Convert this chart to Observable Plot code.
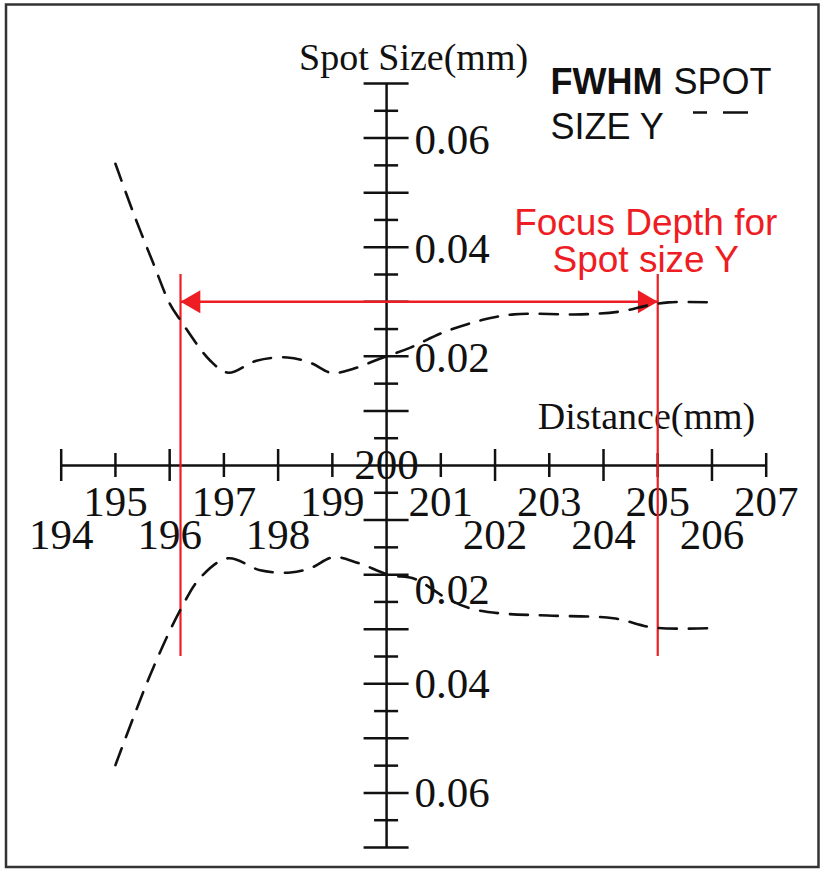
<!DOCTYPE html>
<html><head><meta charset="utf-8">
<script src="https://cdn.jsdelivr.net/npm/d3@7"></script>
<script src="https://cdn.jsdelivr.net/npm/@observablehq/plot@0.6"></script>
<style>html,body{margin:0;padding:0;background:#fff;overflow:hidden} #chart svg{display:block}</style>
</head><body><div id="chart"></div>
<script>
// ---- data ----
const xTickValues = [194,195,196,197,198,199,200,201,202,203,204,205,206,207];
const yLabelValues = [0.02, 0.04, 0.06];
// upper branch (FWHM spot size Y, drawn above the axis)
const upperX = [195.0,195.33,195.7,196.0,196.2,196.75,197.08,197.6,198.17,198.6,198.97,199.28,199.94,200.44,201.05,201.74,202.35,203.6,204.3,204.8,205.2,206.0];
const upperY = [0.0553,0.0463,0.037,0.0297,0.0266,0.0192,0.0170,0.0192,0.0198,0.0188,0.0170,0.0174,0.0198,0.0216,0.0244,0.0266,0.0277,0.0277,0.0282,0.0293,0.0299,0.0299];
// lower branch (mirrored below the axis)
const lowerX = [195.0,195.33,195.7,196.19,196.57,197.08,197.67,198.23,198.6,199.02,199.46,200.07,200.5,201.12,201.55,202.1,202.97,204.18,204.93,206.0];
const lowerY = [0.0549,0.0462,0.037,0.0266,0.0205,0.0170,0.0192,0.0196,0.0188,0.0168,0.0178,0.0201,0.0207,0.0244,0.0262,0.0271,0.0275,0.0280,0.0297,0.0298];
const focusRange = [196.2, 205];
const focusHalfHeight = 0.035;
const arrowLevel = 0.03;

const upper = upperX.map((x,i)=>({x, y: upperY[i]}));
const lower = lowerX.map((x,i)=>({x, y: -lowerY[i]}));

const xDomain=[194,207], xRange=[60.7,765.7], yDomain=[-0.07,0.07], yRange=[847,83];
const px = d3.scaleLinear(xDomain,xRange), py = d3.scaleLinear(yDomain,yRange);

const serif = "'Liberation Serif','Times New Roman',serif";
const sans = "'Liberation Sans',Arial,sans-serif";
const red = "#ee1d23";
const ink = "#111";

const yTicks = d3.range(-14, 15).filter(k => k !== 0);
const yMajor = yTicks.filter(k => k % 2 === 0).map(k => k*0.005);
const yMinor = yTicks.filter(k => k % 2 !== 0).map(k => k*0.005);
const xLong = xTickValues.filter(v => v !== 200 && v % 2 === 0);
const xShort = xTickValues.filter(v => v % 2 !== 0);

const chart = Plot.plot({
  width: 822, height: 869, margin: 0,
  x: {domain: xDomain, range: xRange, axis: null},
  y: {domain: yDomain, range: yRange, axis: null},
  marks: [
    Plot.frame({stroke:"#333", strokeWidth:2.5, insetLeft:5.5, insetTop:4, insetRight:4, insetBottom:2.5}),
    // axes
    Plot.ruleY([0], {x1: xDomain[0], x2: xDomain[1], stroke: ink, strokeWidth: 2.5}),
    Plot.ruleX([200], {y1: yDomain[0], y2: yDomain[1], stroke: ink, strokeWidth: 2.5}),
    Plot.ruleX(xLong, {x: d=>d, y1: 0, y2: 0, insetTop: -16, insetBottom: -16, stroke: ink, strokeWidth: 2.5}),
    Plot.ruleX(xShort, {x: d=>d, y1: 0, y2: 0, insetTop: -12, insetBottom: -12, stroke: ink, strokeWidth: 2.5}),
    Plot.ruleY(yMajor, {y: d=>d, x1: 200, x2: 200, insetLeft: -22.5, insetRight: -22.5, stroke: ink, strokeWidth: 2.5}),
    Plot.ruleY(yMinor, {y: d=>d, x1: 200, x2: 200, insetLeft: -12, insetRight: -12, stroke: ink, strokeWidth: 2.5}),
    // x tick labels
    Plot.text(xShort, {x: d=>d, y: 0, dy: 37, text: d=>String(d), fontFamily: serif, fontSize: 43, fill: ink}),
    Plot.text(xLong, {x: d=>d, y: 0, dy: 70, text: d=>String(d), fontFamily: serif, fontSize: 43, fill: ink}),
    Plot.text([200], {x: d=>d, y: 0, dy: 0, text: d=>String(d), fontFamily: serif, fontSize: 43, fill: ink}),
    // y tick labels
    Plot.text(yLabelValues, {x: 200, y: d=>d, dx: 28, dy: 2, textAnchor: "start", text: d=>d.toFixed(2), fontFamily: serif, fontSize: 43, fill: ink}),
    Plot.text(yLabelValues.filter(v=>v!==0.02), {x: 200, y: d=>-d, dx: 28, textAnchor: "start", text: d=>d.toFixed(2), fontFamily: serif, fontSize: 43, fill: ink}),
    Plot.text(yLabelValues.filter(v=>v===0.02), {x: 200, y: d=>-d, dx: 28, dy: 16, textAnchor: "start", text: d=>d.toFixed(2), fontFamily: serif, fontSize: 43, fill: ink}),
    // axis titles
    Plot.text(["Spot Size(mm)"], {x: 200, y: yDomain[1], dx: 27, dy: -26, text: d=>d, fontFamily: serif, fontSize: 38, fill: ink}),
    Plot.text(["Distance(mm)"], {x: xDomain[1], y: 0, dx: -11, dy: -49, textAnchor: "end", text: d=>d, fontFamily: serif, fontSize: 38, fill: ink}),
    // focus depth annotation
    Plot.ruleX(focusRange, {x: d=>d, y1: -focusHalfHeight, y2: focusHalfHeight, stroke: red, strokeWidth: 2.2}),
    Plot.ruleY([arrowLevel], {x1: focusRange[0], x2: focusRange[1], stroke: red, strokeWidth: 2.5}),
    Plot.dot([focusRange[0]], {x: d=>d, y: arrowLevel, symbol: "triangle", r: 8.5, rotate: -90, dx: 13.2, fill: red, stroke: "none"}),
    Plot.dot([focusRange[1]], {x: d=>d, y: arrowLevel, symbol: "triangle", r: 8.5, rotate: 90, dx: -13.2, fill: red, stroke: "none"}),
    Plot.text(["Focus Depth for"], {x: focusRange[1], y: focusHalfHeight, dx: -12, dy: -51, text: d=>d, fontFamily: sans, fontSize: 37, fill: red}),
    Plot.text(["Spot size Y"], {x: focusRange[1], y: focusHalfHeight, dx: -12, dy: -14, text: d=>d, fontFamily: sans, fontSize: 37, fill: red}),
    // curves
    Plot.line(upper, {x: "x", y: "y", curve: "catmull-rom", stroke: ink, strokeWidth: 2.6, strokeDasharray: "18,12"}),
    Plot.line(lower, {x: "x", y: "y", curve: "catmull-rom", stroke: ink, strokeWidth: 2.6, strokeDasharray: "18,12"}),
    // legend
    Plot.text(["FWHM"], {frameAnchor: "top-left", lineAnchor: "middle", dx: 550, dy: 82, textAnchor: "start", text: d=>d, fontFamily: sans, fontWeight: "bold", fontSize: 36, fill: ink}),
    Plot.text(["SPOT"], {frameAnchor: "top-left", lineAnchor: "middle", dx: 673, dy: 82, textAnchor: "start", text: d=>d, fontFamily: sans, fontSize: 36, fill: ink}),
    Plot.text(["SIZE Y"], {frameAnchor: "top-left", lineAnchor: "middle", dx: 550, dy: 127, textAnchor: "start", text: d=>d, fontFamily: sans, fontSize: 36, fill: ink}),
    Plot.ruleY([py.invert(112)], {x1: px.invert(693), x2: px.invert(748), stroke: ink, strokeWidth: 2.6, strokeDasharray: "14,16,25"})
  ]
});
document.getElementById("chart").appendChild(chart);
</script>
</body></html>
